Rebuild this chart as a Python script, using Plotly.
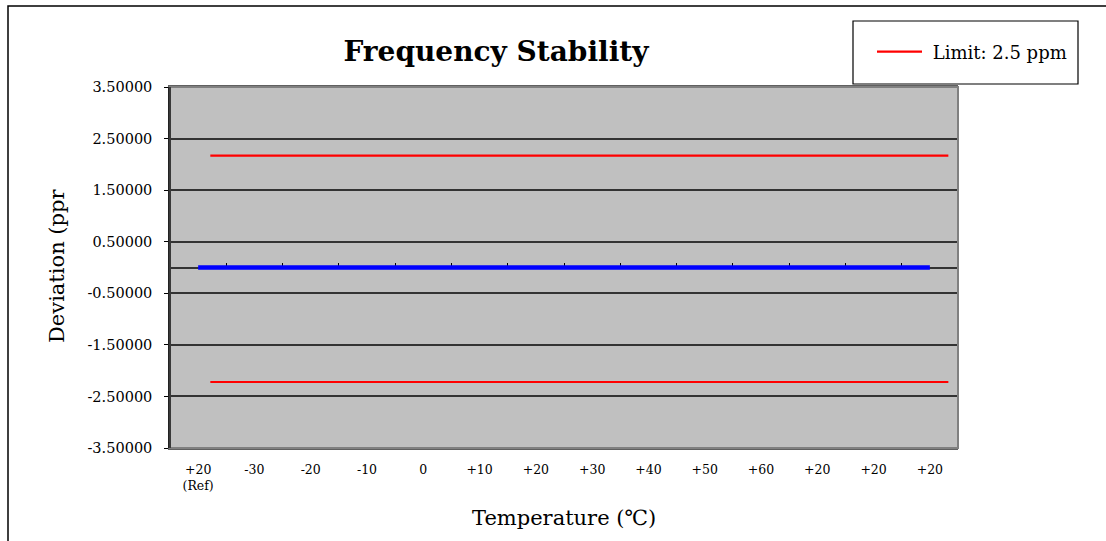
import plotly.graph_objects as go

# ---- data ----
categories = ["+20<br>(Ref)", "-30", "-20", "-10", "0", "+10", "+20", "+30",
              "+40", "+50", "+60", "+20", "+20", "+20"]
deviation = [0, 0, 0, 0, 0, 0, 0, 0, 0, 0, 0, 0, 0, 0]
upper_limit = [2.17] * 14
lower_limit = [-2.22] * 14
y_tickvals = [3.5, 2.5, 1.5, 0.5, -0.5, -1.5, -2.5, -3.5]
y_ticktext = ["3.50000", "2.50000", "1.50000", "0.50000",
              "-0.50000", "-1.50000", "-2.50000", "-3.50000"]
legend_name = "Limit: 2.5 ppm"

W, H = 1106, 541
idx = list(range(len(categories)))
SERIF = "DejaVu Serif"

xd = [170 / W, 958 / W]
yd = [1 - 448 / H, 1 - 87 / H]
zero_pos = yd[0] + (0 - (-3.5)) / 7.0 * (yd[1] - yd[0])

fig = go.Figure()

fig.add_trace(go.Scatter(
    x=idx, y=upper_limit, xaxis="x2", yaxis="y", mode="lines",
    line=dict(color="#FF0000", width=2.2), name="&nbsp;" + legend_name,
    showlegend=True))
fig.add_trace(go.Scatter(
    x=idx, y=lower_limit, xaxis="x2", yaxis="y", mode="lines",
    line=dict(color="#FF0000", width=2.2), name=legend_name, showlegend=False))
fig.add_trace(go.Scatter(
    x=idx, y=deviation, xaxis="x3", yaxis="y", mode="lines",
    line=dict(color="#0000FF", width=4.5), name="Deviation", showlegend=False))
fig.add_trace(go.Scatter(
    x=idx, y=deviation, xaxis="x", yaxis="y", mode="lines",
    line=dict(color="rgba(0,0,0,0)", width=0), hoverinfo="skip", showlegend=False))

fig.update_layout(
    width=W, height=H,
    margin=dict(l=0, r=0, t=0, b=0, pad=0, autoexpand=False),
    paper_bgcolor="white",
    plot_bgcolor="#C0C0C0",
    font=dict(family=SERIF, color="black"),
    title=dict(text="<b>Frequency Stability</b>", x=496 / W, xanchor="center",
               y=1 - 51 / H, yanchor="middle", automargin=False,
               font=dict(family=SERIF, size=28, color="black")),
    xaxis=dict(domain=xd, range=[-0.5, 13.5], tickmode="array", tickvals=idx,
               ticktext=categories, showgrid=False, zeroline=False,
               showline=True, linecolor="#606060", linewidth=2, mirror=True,
               ticks="", ticklabelstandoff=9, automargin=False,
               tickfont=dict(family=SERIF, size=12.5, color="black")),
    xaxis2=dict(overlaying="x", anchor="y", range=[-0.71, 13.17],
                visible=False, automargin=False),
    xaxis3=dict(overlaying="x", anchor="free", position=zero_pos, side="top",
                range=[-0.5, 13.5], tickmode="array",
                tickvals=[i + 0.5 for i in range(-1, len(categories))],
                ticks="outside", ticklen=4, tickwidth=1.2, tickcolor="black",
                showticklabels=False, showgrid=False, zeroline=False,
                showline=True, linecolor="#333333", linewidth=1.5,
                layer="below traces", automargin=False),
    yaxis=dict(domain=yd, range=[-3.5, 3.5], tickmode="array",
               tickvals=y_tickvals, ticktext=y_ticktext, showgrid=True,
               gridcolor="#333333", gridwidth=1.6, zeroline=False,
               showline=True, linecolor="#222222", linewidth=1.5,
               ticks="outside", ticklen=4, tickcolor="black",
               ticklabelstandoff=9, automargin=False,
               tickfont=dict(family=SERIF, size=14.5, color="black")),
    showlegend=True,
    legend=dict(x=872 / W, y=1 - 52 / H, xanchor="left", yanchor="middle",
                bgcolor="rgba(0,0,0,0)", borderwidth=0, itemwidth=45,
                font=dict(family=SERIF, size=18, color="black")),
    shapes=[
        dict(type="rect", xref="paper", yref="paper", x0=xd[0], x1=xd[1],
             y0=yd[0], y1=yd[1], line=dict(color="#808080", width=2),
             layer="above"),
        dict(type="line", xref="paper", yref="paper", x0=xd[0], x1=xd[0],
             y0=yd[0], y1=yd[1], line=dict(color="#222222", width=1.5),
             layer="above"),
        dict(type="rect", xref="paper", yref="paper", x0=8 / W, x1=1.02,
             y0=-0.02, y1=1 - 6 / H, line=dict(color="black", width=1.5)),
        dict(type="rect", xref="paper", yref="paper", x0=853 / W, x1=1078 / W,
             y0=1 - 84 / H, y1=1 - 21 / H, line=dict(color="black", width=1.2)),
    ],
    annotations=[
        dict(text="Deviation (ppr", xref="paper", yref="paper", x=57 / W,
             y=1 - 266 / H, textangle=-90, showarrow=False,
             xanchor="center", yanchor="middle",
             font=dict(family=SERIF, size=21, color="black")),
        dict(text="Temperature (℃)", xref="paper", yref="paper", x=564 / W,
             y=1 - 518 / H, showarrow=False, xanchor="center",
             yanchor="middle", font=dict(family=SERIF, size=21, color="black")),
    ],
)

fig.write_html("out.html",
               config={"displayModeBar": False},
               post_script="document.body.style.margin='0';"
                           "document.body.style.overflow='hidden';")
